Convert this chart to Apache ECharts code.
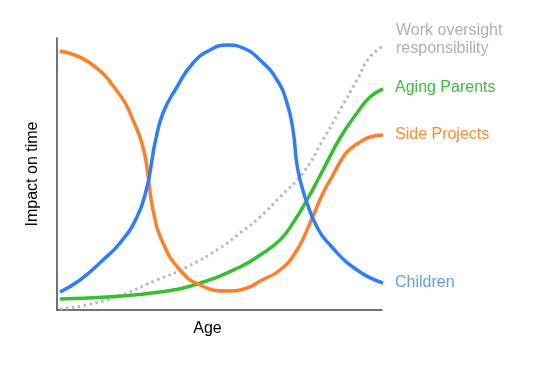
<!DOCTYPE html>
<html><head><meta charset="utf-8">
<script src="https://cdn.jsdelivr.net/npm/echarts@6/dist/echarts.min.js"></script>
<style>html,body{margin:0;padding:0;background:#fff}#c{width:533px;height:374px}</style>
</head><body><div id="c"></div>
<script>
const sideProjects = [[0.92,95.22],[10.15,90.81],[19.38,79.04],[23.38,69.85],[26.46,59.93],[28.0,49.63],[29.54,36.76],[32.62,24.63],[37.85,14.71],[44.0,9.19],[52.31,6.99],[58.46,8.09],[62.46,10.66],[68.62,14.71],[73.85,22.06],[77.85,31.99],[81.85,43.01],[84.92,49.63],[87.08,54.41],[89.23,58.09],[92.31,61.03],[96.31,63.6],[100.31,64.34]];
const children = [[0.92,6.62],[7.08,11.03],[14.15,18.38],[19.38,24.63],[24.62,34.19],[27.69,45.22],[29.23,55.15],[30.15,61.4],[32.62,72.43],[36.92,81.99],[41.85,90.81],[47.08,95.59],[52.31,97.43],[57.23,96.32],[62.46,91.91],[67.69,84.56],[70.77,76.1],[72.62,66.18],[73.85,53.31],[75.38,45.22],[76.92,39.34],[80.0,30.51],[84.0,23.9],[92.31,14.71],[100.31,9.93]];
const agingParents = [[0.92,4.04],[15.38,4.78],[31.69,6.62],[43.08,9.56],[56.31,15.81],[62.46,20.22],[68.62,25.74],[72.62,31.99],[76.92,40.44],[81.85,51.47],[87.08,63.24],[92.31,72.43],[96.31,78.31],[100.31,81.25]];
const workOversight = [[0.92,0.37],[15.38,3.68],[30.77,11.03],[40.0,15.81],[50.15,22.79],[56.31,28.31],[62.46,34.19],[68.62,41.54],[75.69,50.37],[81.85,62.5],[87.08,73.53],[92.31,84.56],[96.31,93.01],[101.85,98.16]];
const seriesNames = ['Work oversight\nresponsibility','Aging Parents','Side Projects','Children'];
const xTitle = 'Age';
const yTitle = 'Impact on time';

const font = 'Liberation Sans, Arial, sans-serif';
function mk(name, data, color, labelColor, width, type, offset) {
  return {
    name: name, type: 'line', data: data, smooth: 0.5, symbol: 'none', clip: false,
    lineStyle: {color: color, width: width, type: type || 'solid'},
    endLabel: {show: true, formatter: name, color: labelColor, fontSize: 16, fontFamily: font, distance: 12, lineHeight: 18, offset: offset || [0, 0]},
    emphasis: {disabled: true}
  };
}
const chart = echarts.init(document.getElementById('c'));
chart.setOption({
  animation: false,
  grid: {left: 57, right: 151, top: 38, bottom: 64},
  xAxis: {type: 'value', min: 0, max: 100, name: xTitle, nameLocation: 'middle', nameGap: 11,
    nameTextStyle: {color: '#000', fontSize: 16, fontFamily: font, padding: [0, 24, 0, 0]},
    axisLine: {lineStyle: {color: '#444', width: 1.5}}, axisTick: {show: false}, axisLabel: {show: false}, splitLine: {show: false}},
  yAxis: {type: 'value', min: 0, max: 100, name: yTitle, nameLocation: 'middle', nameGap: 16,
    nameTextStyle: {color: '#000', fontSize: 16, fontFamily: font},
    axisLine: {show: true, lineStyle: {color: '#444', width: 1.5}}, axisTick: {show: false}, axisLabel: {show: false}, splitLine: {show: false}},
  series: [
    mk(seriesNames[0], workOversight, '#b8b8b8', '#b0b0b0', 3, [2.5, 3.5], [0, -7]),
    mk(seriesNames[1], agingParents, '#33c12f', '#3cbd3a', 3.5, null, [0, -1]),
    mk(seriesNames[2], sideProjects, '#ff7f27', '#ff8a33', 3.5),
    mk(seriesNames[3], children, '#2b7fff', '#5c9cff', 3.5)
  ]
});
</script></body></html>
